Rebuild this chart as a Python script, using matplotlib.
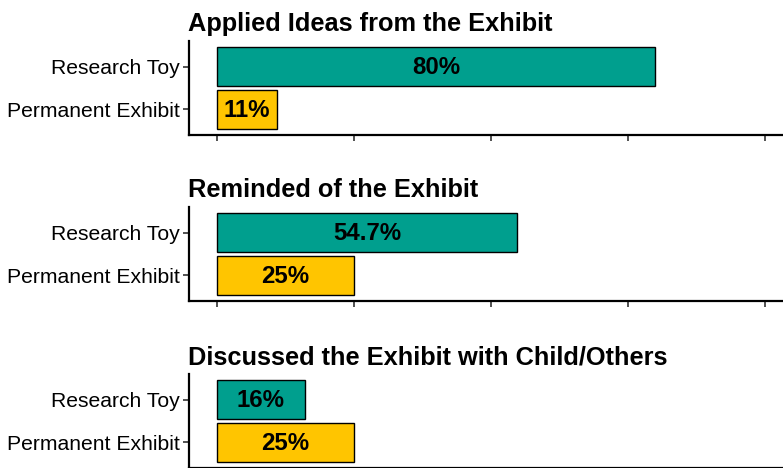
import matplotlib.pyplot as plt

plt.rcParams['font.family'] = ['Liberation Sans', 'DejaVu Sans']

##################### data

titles = ['Applied Ideas from the Exhibit',
          'Reminded of the Exhibit',
          'Discussed the Exhibit with Child/Others']
groups = ['Research Toy', 'Permanent Exhibit']
applied = [80, 11]
reminded = [54.7, 25]
discussed = [16, 25]
labels = [['80%', '11%'], ['54.7%', '25%'], ['16%', '25%']]

colors = ['#009F8E', '#FFC500']

##################### figure

W, H = 783, 468
fig = plt.figure(figsize=(W / 100, H / 100), dpi=100)

left = 188.5 / W
width = 1 - left
tops = [41, 207, 374]     # panel tops in pixels
ph = 94                   # panel height in pixels

for k, vals in enumerate([applied, reminded, discussed]):
    bottom = (H - tops[k] - ph) / H
    ax = fig.add_axes([left, bottom, width, ph / H])
    ypos = [1, 0]
    ax.barh(ypos, vals, height=0.9, color=colors, edgecolor='black', linewidth=1)
    for y, v, lab in zip(ypos, vals, labels[k]):
        ax.text(v / 2, y - 0.03, lab, ha='center', va='center', fontsize=17.3,
                fontweight='bold', color='black')
    ax.set_xlim(-5.2, 103.3)
    ax.set_ylim(-0.6, 1.6)
    ax.set_yticks(ypos)
    ax.set_yticklabels(groups, fontsize=15.2)
    ax.set_xticks([0, 25, 50, 75, 100])
    ax.set_xticklabels([])
    ax.tick_params(axis='both', length=4, width=1.2, color='#333333', pad=2)
    for s in ['top', 'right']:
        ax.spines[s].set_visible(False)
    for s in ['left', 'bottom']:
        ax.spines[s].set_linewidth(1.6)
    ax.set_title(titles[k], loc='left', fontsize=18.3, fontweight='bold', pad=7)

plt.savefig('out.png', dpi=100)
